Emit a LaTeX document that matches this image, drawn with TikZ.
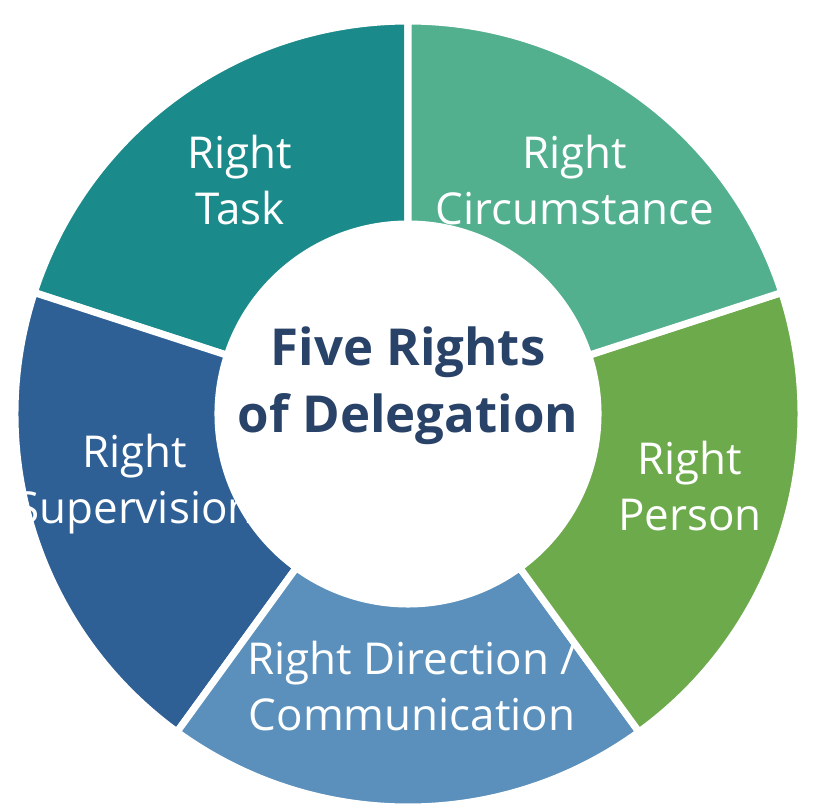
\documentclass[tikz,border=0pt]{standalone}
\usepackage{fontspec}
\setmainfont{Open Sans}
\definecolor{task}{RGB}{27, 138, 138}
\definecolor{circum}{RGB}{82, 176, 143}
\definecolor{person}{RGB}{108, 170, 76}
\definecolor{direction}{RGB}{90, 144, 187}
\definecolor{supervision}{RGB}{46, 95, 149}
\definecolor{titlecol}{RGB}{40, 66, 104}
\usetikzlibrary{positioning, calc}
\tikzset{
    segment/.style={draw=white, line width=2pt},
    label/.style={align=center, text=white, font=\fontsize{12.5}{16}\selectfont},
    title/.style={align=center, text=titlecol, font=\bfseries\fontsize{14.5}{19}\selectfont}
}
\begin{document}
\begin{tikzpicture}
        \useasboundingbox (0,0) rectangle (8.22,8.10);
        \coordinate (c) at (4.08,3.96);

        % Ring segments
        \foreach \a/\col in {90/task, 162/supervision, 234/direction, 306/person, 18/circum}{
            \filldraw[segment, fill=\col, shift={(c)}] (\a:1.9) arc (\a:\a+72:1.9) -- (\a+72:3.93) arc (\a+72:\a:3.93) -- cycle;
        }

        % Centre
        \node[circle, fill=white, minimum size=3.76cm] (hub) at (c) {};
        \node[title] (ttl) at ($(c)+(0,0.28)$) {Five Rights\\of Delegation};

        % Labels
        \node[label] (rtask) at (2.40,6.30) {Right\\Task};
        \node[label] (rcirc) at (5.75,6.30) {Right\\Circumstance};
        \node[label] (rpers) at (6.90,3.24) {Right\\Person};
        \node[label] (rdir) at (4.12,1.24) {Right Direction /\\Communication};
        \node[label] (rsup) at (1.35,3.26) {Right\\Supervision};
    \end{tikzpicture}
\end{document}
